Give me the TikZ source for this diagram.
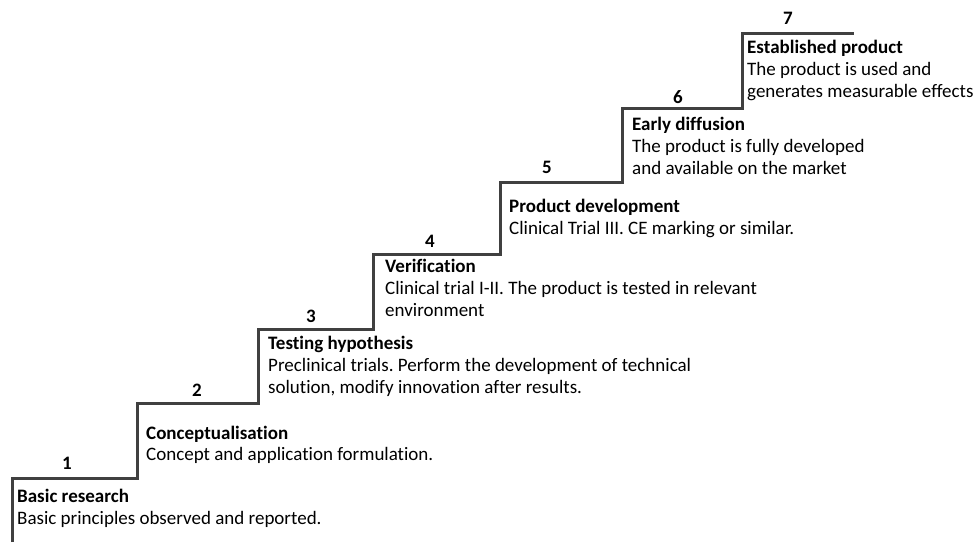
\documentclass[tikz,border=0pt]{standalone}
\usepackage{fontspec}
\setmainfont[Ligatures=NoCommon]{Carlito}
\definecolor{stairgray}{HTML}{404040}
\frenchspacing
\begin{document}
\begin{tikzpicture}[x=1pt,y=-1pt,
  stair/.style={draw=stairgray, line width=3pt, line join=miter},
  num/.style={font=\fontsize{19}{21}\selectfont\bfseries, anchor=base, inner sep=0},
  ttl/.style={font=\fontsize{19}{21}\selectfont\bfseries, anchor=base west, inner sep=0},
  desc/.style={font=\fontsize{19}{21}\selectfont, anchor=base west, inner sep=0}]
\useasboundingbox (0,0) rectangle (979,542);
% staircase
\coordinate (s0) at (12.5,542);
\coordinate (c1) at (12.5,478);   \coordinate (e1) at (137.5,478);
\coordinate (c2) at (137.5,403);  \coordinate (e2) at (258.5,403);
\coordinate (c3) at (258.5,329);  \coordinate (e3) at (373.5,329);
\coordinate (c4) at (373.5,254);  \coordinate (e4) at (500.5,254);
\coordinate (c5) at (500.5,182);  \coordinate (e5) at (622.5,182);
\coordinate (c6) at (622.5,108);  \coordinate (e6) at (742.5,108);
\coordinate (c7) at (742.5,33);   \coordinate (e7) at (854,33);
\draw[stair] (s0) -- (c1) -- (e1) -- (c2) -- (e2) -- (c3) -- (e3) -- (c4) -- (e4)
  -- (c5) -- (e5) -- (c6) -- (e6) -- (c7) -- (e7);
% numbers
\node[num] (n1) at (67,469) {1};
\node[num] (n2) at (197,396) {2};
\node[num] (n3) at (311,322) {3};
\node[num] (n4) at (430,247) {4};
\node[num] (n5) at (547,173) {5};
\node[num] (n6) at (678,103) {6};
\node[num] (n7) at (788,24) {7};
% step 1
\node[ttl] (t1) at (17,502) {Basic research};
\node[desc] (d1a) at (17,524) {Basic principles observed and reported.};
% step 2
\node[ttl] (t2) at (146,439) {Conceptualisation};
\node[desc] (d2a) at (146,460) {Concept and application formulation.};
% step 3
\node[ttl] (t3) at (268,349) {Testing hypothesis};
\node[desc] (d3a) at (268,371) {Preclinical trials. Perform the development of technical};
\node[desc] (d3b) at (268,393) {solution, modify innovation after results.};
% step 4
\node[ttl] (t4) at (385,272) {Verification};
\node[desc] (d4a) at (385,294) {Clinical trial I-II. The product is tested in relevant};
\node[desc] (d4b) at (385,316) {environment};
% step 5
\node[ttl] (t5) at (509,212) {Product development};
\node[desc] (d5a) at (509,234) {Clinical Trial III. CE marking or similar.};
% step 6
\node[ttl] (t6) at (632,130) {Early diffusion};
\node[desc] (d6a) at (632,152) {The product is fully developed};
\node[desc] (d6b) at (632,174) {and available on the market};
% step 7
\node[ttl] (t7) at (747,53) {Established product};
\node[desc] (d7a) at (747,75) {The product is used and};
\node[desc] (d7b) at (747,97) {generates measurable effects};
\end{tikzpicture}
\end{document}
